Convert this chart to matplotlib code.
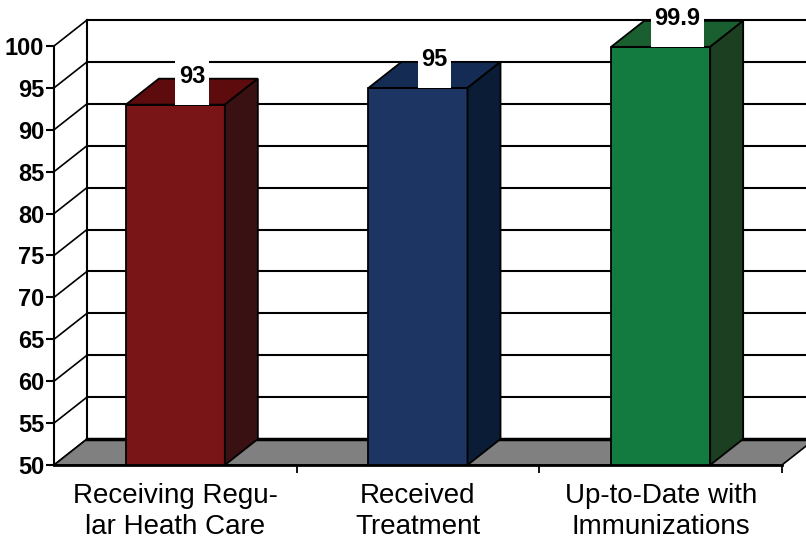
import matplotlib.pyplot as plt
from matplotlib.patches import Polygon, Rectangle

plt.rcParams['font.family'] = ['Liberation Sans', 'DejaVu Sans']

# chart data
categories = ['Receiving Regu-\nlar Heath Care', 'Received\nTreatment', 'Up-to-Date with\nImmunizations']
values = [93, 95, 99.9]
value_labels = ['93', '95', '99.9']
y_ticks = [50, 55, 60, 65, 70, 75, 80, 85, 90, 95, 100]

front_colors = ['#7a1517', '#1c3562', '#137b3f']
top_colors = ['#5d0b0d', '#142b54', '#1a5f2f']
side_colors = ['#3a1113', '#0b1c36', '#1b3f20']

# fake 3d depth, in data units (about 33 px right, 26 px up)
DX = 0.136
DY = 3.1
BAR_W = 0.408
YMIN, YMAX = 50, 100

fig = plt.figure(figsize=(8.06, 5.44), dpi=100)
ax = fig.add_axes([54 / 806, 79 / 544, 728 / 806, 419 / 544])
ax.set_xlim(0, 3)
ax.set_ylim(YMIN, YMAX)
for s in ax.spines.values():
    s.set_visible(False)
ax.patch.set_alpha(0)

# back wall gridlines and left wall diagonals
for y in y_ticks:
    if y > YMIN:
        ax.plot([DX, 3.3], [y + DY, y + DY], color='black', lw=1.5, zorder=1, clip_on=False)
    ax.plot([0, DX], [y, y + DY], color='black', lw=1.2, zorder=1, clip_on=False)
ax.plot([DX, DX], [YMIN + DY, YMAX + DY], color='black', lw=1.5, zorder=1, clip_on=False)
ax.plot([0, 0], [YMIN, YMAX], color='black', lw=1.5, zorder=1, clip_on=False)

# floor
floor = Polygon([(0, YMIN), (3, YMIN), (3 + DX, YMIN + DY), (DX, YMIN + DY)],
                closed=True, facecolor='#808080', edgecolor='black', lw=1.2, zorder=2, clip_on=False)
ax.add_patch(floor)
ax.plot([DX, 3.3], [YMIN + DY, YMIN + DY], color='black', lw=2.5, zorder=2, clip_on=False)
ax.plot([0, 3], [YMIN, YMIN], color='black', lw=2.0, zorder=2, clip_on=False)

# bars
texts = []
for i, v in enumerate(values):
    x0 = i + 0.5 - BAR_W / 2
    x1 = x0 + BAR_W
    ax.add_patch(Rectangle((x0, YMIN), BAR_W, v - YMIN, facecolor=front_colors[i],
                           edgecolor='black', lw=1.3, zorder=3, clip_on=False))
    ax.add_patch(Polygon([(x0, v), (x1, v), (x1 + DX, v + DY), (x0 + DX, v + DY)], closed=True,
                         facecolor=top_colors[i], edgecolor='black', lw=1.3, zorder=3, clip_on=False))
    ax.add_patch(Polygon([(x1, YMIN), (x1 + DX, YMIN + DY), (x1 + DX, v + DY), (x1, v)], closed=True,
                         facecolor=side_colors[i], edgecolor='black', lw=1.3, zorder=3, clip_on=False))
    t = ax.text(i + 0.5 + DX / 2, v + 3.35, value_labels[i], ha='center', va='center',
                fontsize=17, fontweight='bold', zorder=5, clip_on=False)
    texts.append((t, v))

# white boxes behind the value labels
fig.canvas.draw()
inv = ax.transData.inverted()
for t, v in texts:
    bb = t.get_window_extent()
    (bx0, _), (bx1, _) = inv.transform([(bb.x0 - 3.5, 0), (bb.x1 + 3.5, 0)])
    yc = t.get_position()[1]
    ax.add_patch(Rectangle((bx0, v), bx1 - bx0, 2 * (yc - v), facecolor='white',
                           edgecolor='none', zorder=4, clip_on=False))

# ticks
ax.set_yticks(y_ticks)
ax.set_yticklabels([str(y) for y in y_ticks], fontsize=17, fontweight='bold')
ax.tick_params(axis='y', direction='out', length=6, width=1.5, pad=1)
ax.set_xticks([0.5, 1.5, 2.5])
ax.set_xticklabels(categories, fontsize=20, linespacing=1.25)
ax.tick_params(axis='x', which='major', length=0, pad=13)
ax.set_xticks([1, 2, 3], minor=True)
ax.tick_params(axis='x', which='minor', direction='out', length=6, width=1.3)

fig.savefig('out.png', dpi=100)
